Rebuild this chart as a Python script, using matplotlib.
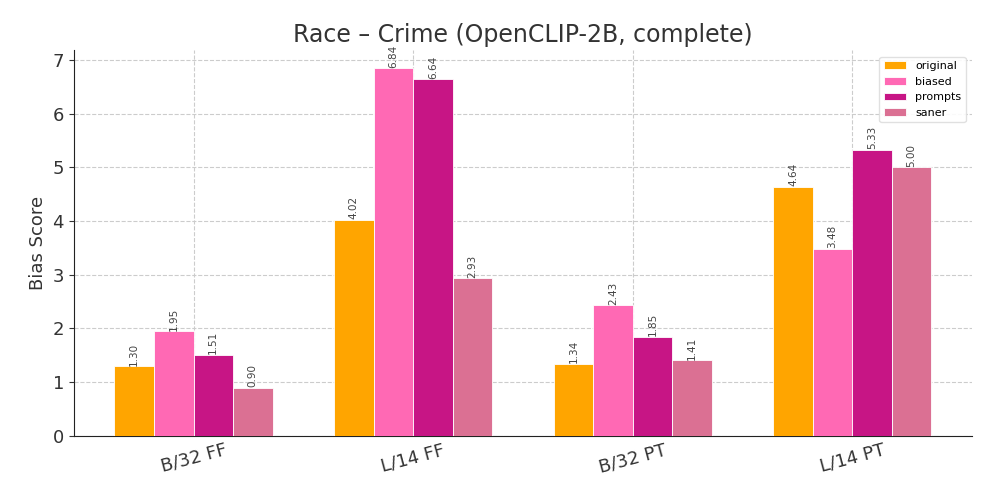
import matplotlib
matplotlib.use("Agg")
import matplotlib.pyplot as plt
import numpy as np

models = ["B/32 FF", "L/14 FF", "B/32 PT", "L/14 PT"]
methods = ["original", "biased", "prompts", "saner"]
original = [1.30, 4.02, 1.34, 4.64]
biased = [1.95, 6.84, 2.43, 3.48]
prompts = [1.51, 6.64, 1.85, 5.33]
saner = [0.90, 2.93, 1.41, 5.00]
colors = ["#FFA500", "#FF69B4", "#C71585", "#DB7093"]

plt.rcParams["font.family"] = "DejaVu Sans"
text_color = "#333333"

fig, ax = plt.subplots(figsize=(9.82, 5.01), dpi=100)
x = np.arange(len(models))
width = 0.18
series = [original, biased, prompts, saner]

for i, (name, vals) in enumerate(zip(methods, series)):
    bars = ax.bar(x + (i - 1.5) * width, vals, width, label=name,
                  color=colors[i], edgecolor="white", linewidth=0.6, zorder=3)
    for b, v in zip(bars, vals):
        ax.text(b.get_x() + b.get_width() / 2, b.get_height() + 0.01, f"{v:.2f}",
                ha="center", va="bottom", rotation=90, fontsize=7.5,
                color="#444444", zorder=4)

ax.set_xticks(x)
ax.set_xticklabels(models, rotation=15, fontsize=13, color=text_color)
ax.tick_params(axis="y", labelsize=13, colors=text_color)
ax.tick_params(axis="x", direction="in", length=3)
ax.set_ylabel("Bias Score", fontsize=13, color=text_color)
ax.set_title("Race – Crime (OpenCLIP-2B, complete)", fontsize=17, color=text_color)
ax.grid(True, linestyle="--", color="#cccccc", linewidth=0.8, zorder=0)
ax.spines["top"].set_visible(False)
ax.spines["right"].set_visible(False)
ax.spines["left"].set_color("#222222")
ax.spines["bottom"].set_color("#222222")
ax.legend(loc="upper right", fontsize=8, framealpha=0.9, edgecolor="#dddddd",
          borderaxespad=0.6)

fig.subplots_adjust(left=0.075, right=0.99, top=0.9, bottom=0.13)
fig.savefig("out.png", dpi=100)
